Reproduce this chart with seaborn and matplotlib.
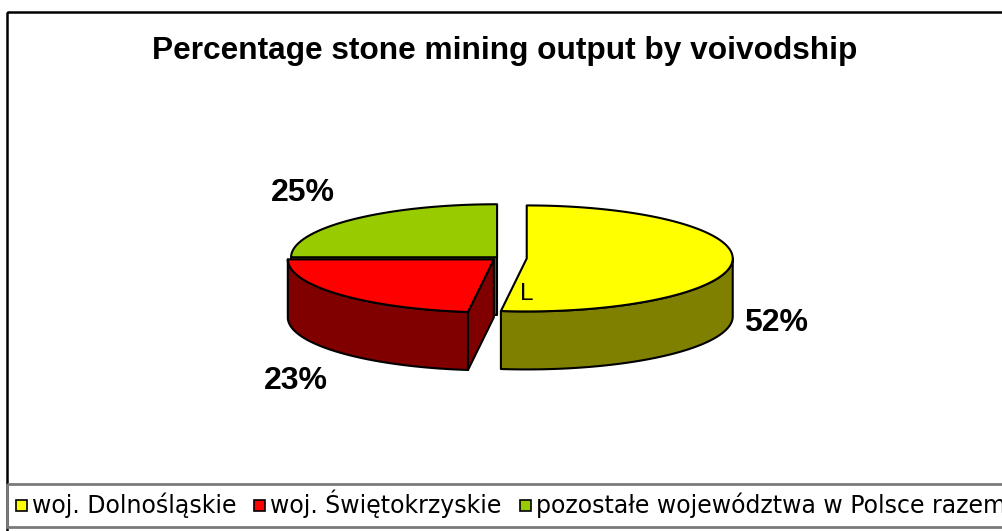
import numpy as np
import matplotlib
matplotlib.use("Agg")
import matplotlib.pyplot as plt
from matplotlib.patches import Polygon, Rectangle
import seaborn as sns

# chart data
title = "Percentage stone mining output by voivodship"
regions = ["woj. Dolnośląskie", "woj. Świętokrzyskie", "pozostałe województwa w Polsce razem"]
shares = [52, 23, 25]
top_colors = sns.color_palette(["#ffff00", "#ff0000", "#99cc00"])
side_colors = sns.color_palette(["#808000", "#800000", "#4d6600"])
explode = [0.13, 0.04, 0.02]

sns.set_theme(style="white")
plt.rcParams["font.family"] = ["Liberation Sans", "DejaVu Sans"]
plt.rcParams["text.color"] = "black"

W, H = 1003, 531
fig = plt.figure(figsize=(W / 100, H / 100), dpi=100)
ax = fig.add_axes([0, 0, 1, 1])
ax.set_xlim(0, W)
ax.set_ylim(H, 0)
ax.axis("off")

# outer chart frame and legend box
ax.add_patch(Rectangle((7, 12), 1100, 600, fill=False, edgecolor="black", lw=1.8))
ax.add_patch(Rectangle((7, 484), 1100, 43, fill=False, edgecolor="#7a7a7a", lw=2))

ax.text(505, 59, title, fontsize=22.8, fontweight="bold", ha="center", va="baseline")

# 3d pie geometry (pixels)
cx, cy = 500, 258
a, b = 206, 53
depth = 58


def rim(x0, y0, th, z=0):
    return np.column_stack([x0 + a * np.sin(th), y0 - b * np.cos(th) + z])


frac = np.array(shares) / sum(shares)
ends = np.cumsum(frac) * 2 * np.pi
starts = ends - frac * 2 * np.pi
mids = (starts + ends) / 2

order = np.argsort(-np.cos(mids))  # back slices first
for i in order:
    th0, th1, thm = starts[i], ends[i], mids[i]
    x0 = cx + explode[i] * a * np.sin(thm)
    y0 = cy - explode[i] * b * np.cos(thm)
    kw = dict(edgecolor="black", lw=1.5, joinstyle="round")

    # outer wall (front half only)
    s0, s1 = max(th0, np.pi / 2), min(th1, 3 * np.pi / 2)
    if s1 > s0:
        th = np.linspace(s0, s1, 120)
        pts = np.vstack([rim(x0, y0, th), rim(x0, y0, th[::-1], depth)])
        ax.add_patch(Polygon(pts, closed=True, facecolor=side_colors[i], **kw))

    # cut faces facing the viewer
    for th_e, n in [(th0, th0 - np.pi / 2), (th1, th1 + np.pi / 2)]:
        if -np.cos(n) > 1e-6:
            p = rim(x0, y0, np.array([th_e]))[0]
            pts = [(x0, y0), tuple(p), (p[0], p[1] + depth), (x0, y0 + depth)]
            ax.add_patch(Polygon(pts, closed=True, facecolor=side_colors[i], **kw))

    # top face
    th = np.linspace(th0, th1, 200)
    pts = np.vstack([[x0, y0], rim(x0, y0, th)])
    ax.add_patch(Polygon(pts, closed=True, facecolor=top_colors[i], **kw))

# data labels
label_xy = [(776, 331), (296, 389), (303, 201)]
for v, (lx, ly) in zip(shares, label_xy):
    ax.text(lx, ly, f"{v}%", fontsize=23, fontweight="bold", ha="center", va="baseline")

ax.text(526.5, 300, "L", fontsize=17.5, ha="center", va="baseline")

# legend
x = 16
for name, col in zip(regions, top_colors):
    ax.add_patch(Rectangle((x, 500), 11, 11, facecolor=col, edgecolor="black", lw=1.2))
    t = ax.text(x + 16, 513, name, fontsize=17, family="DejaVu Sans", va="baseline")
    fig.canvas.draw()
    x = t.get_window_extent().x1 + 18

fig.savefig("out.png", dpi=100)
